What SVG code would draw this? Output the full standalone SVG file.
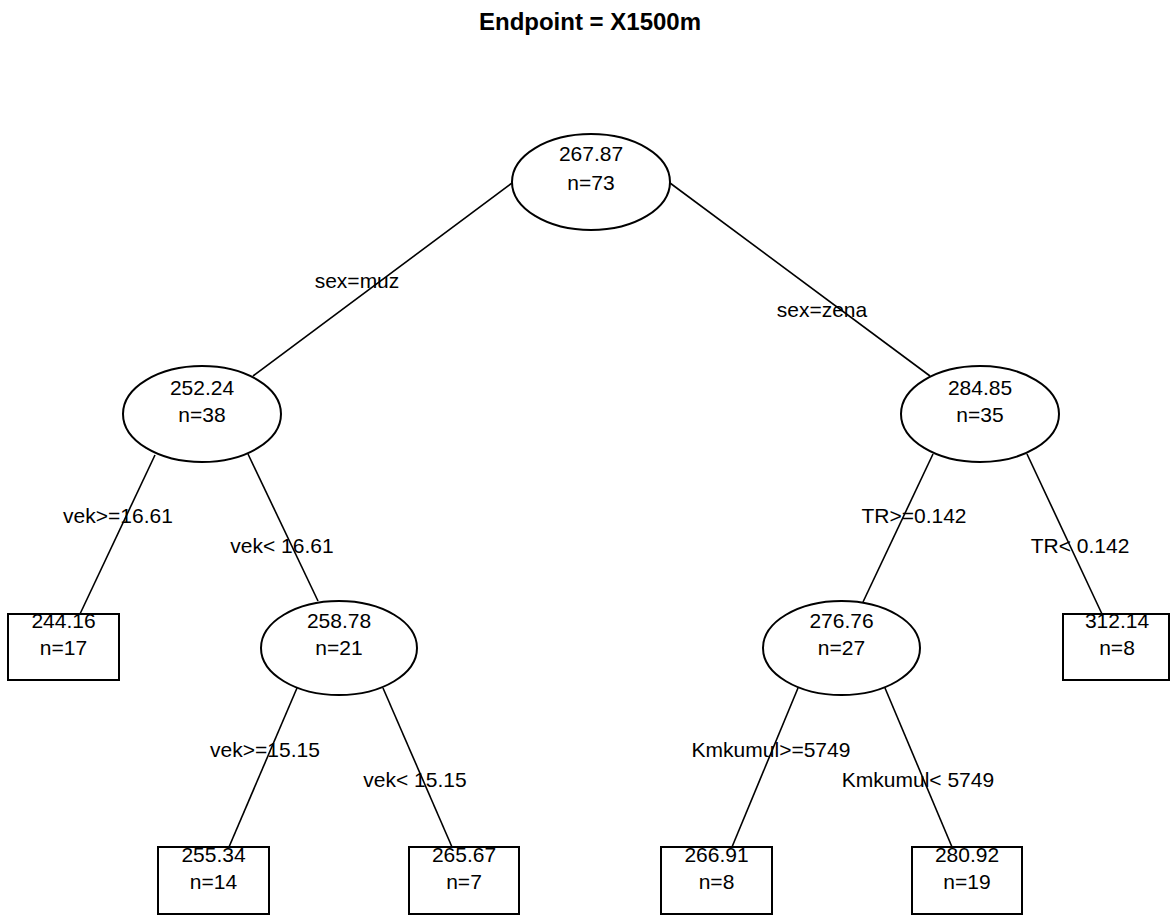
<svg xmlns="http://www.w3.org/2000/svg" width="1170" height="915" viewBox="0 0 1170 915">
<style>
text{font-family:"Liberation Sans",Arial,sans-serif;font-size:21px;fill:#000;text-anchor:middle}
.title{font-size:24px;font-weight:bold}
.node ellipse,.node rect{fill:#fff;stroke:#000;stroke-width:2}
#connectors line{stroke:#000;stroke-width:1.6}
</style>
<rect width="1170" height="915" fill="#fff"/>
<text class="title" x="590" y="30">Endpoint = X1500m</text>
<g id="connectors">
<line x1="512" y1="183" x2="253" y2="376"/>
<line x1="670" y1="183" x2="930" y2="376"/>
<line x1="155" y1="455" x2="80" y2="614"/>
<line x1="248" y1="454" x2="318" y2="601"/>
<line x1="933" y1="454" x2="863" y2="602"/>
<line x1="1027" y1="454" x2="1102" y2="614"/>
<line x1="297" y1="688" x2="229" y2="847"/>
<line x1="383" y1="688" x2="452" y2="847"/>
<line x1="798" y1="688" x2="732" y2="847"/>
<line x1="885" y1="688" x2="952" y2="847"/>
</g>
<g id="edge-labels">
<text x="357" y="288">sex=muz</text>
<text x="822" y="317">sex=zena</text>
<text x="118" y="523">vek&gt;=16.61</text>
<text x="282" y="553">vek&lt; 16.61</text>
<text x="914" y="523">TR&gt;=0.142</text>
<text x="1080" y="553">TR&lt; 0.142</text>
<text x="265" y="757">vek&gt;=15.15</text>
<text x="415" y="787">vek&lt; 15.15</text>
<text x="771" y="757">Kmkumul&gt;=5749</text>
<text x="918" y="787">Kmkumul&lt; 5749</text>
</g>
<g id="n-root" class="node">
<ellipse cx="591" cy="182" rx="79" ry="48"/>
<text x="591" y="161">267.87</text>
<text x="591" y="190">n=73</text>
</g>
<g id="n-252" class="node">
<ellipse cx="202" cy="414" rx="79" ry="48"/>
<text x="202" y="395">252.24</text>
<text x="202" y="422">n=38</text>
</g>
<g id="n-284" class="node">
<ellipse cx="980" cy="414" rx="79" ry="48"/>
<text x="980" y="395">284.85</text>
<text x="980" y="422">n=35</text>
</g>
<g id="n-258" class="node">
<ellipse cx="339" cy="648" rx="78" ry="47"/>
<text x="339" y="628">258.78</text>
<text x="339" y="655">n=21</text>
</g>
<g id="n-276" class="node">
<ellipse cx="841.5" cy="648" rx="78.5" ry="47"/>
<text x="841.5" y="628">276.76</text>
<text x="841.5" y="655">n=27</text>
</g>
<g id="n-244" class="node">
<rect x="8" y="614" width="111" height="66"/>
<text x="63.5" y="628">244.16</text>
<text x="63.5" y="655">n=17</text>
</g>
<g id="n-312" class="node">
<rect x="1063" y="614" width="106" height="66"/>
<text x="1117" y="628">312.14</text>
<text x="1117" y="655">n=8</text>
</g>
<g id="n-255" class="node">
<rect x="158" y="847" width="111" height="67"/>
<text x="213.5" y="862">255.34</text>
<text x="213.5" y="889">n=14</text>
</g>
<g id="n-265" class="node">
<rect x="409" y="847" width="110" height="67"/>
<text x="464" y="862">265.67</text>
<text x="464" y="889">n=7</text>
</g>
<g id="n-266" class="node">
<rect x="661" y="847" width="111" height="67"/>
<text x="716.5" y="862">266.91</text>
<text x="716.5" y="889">n=8</text>
</g>
<g id="n-280" class="node">
<rect x="912" y="847" width="110" height="67"/>
<text x="967" y="862">280.92</text>
<text x="967" y="889">n=19</text>
</g>
</svg>
